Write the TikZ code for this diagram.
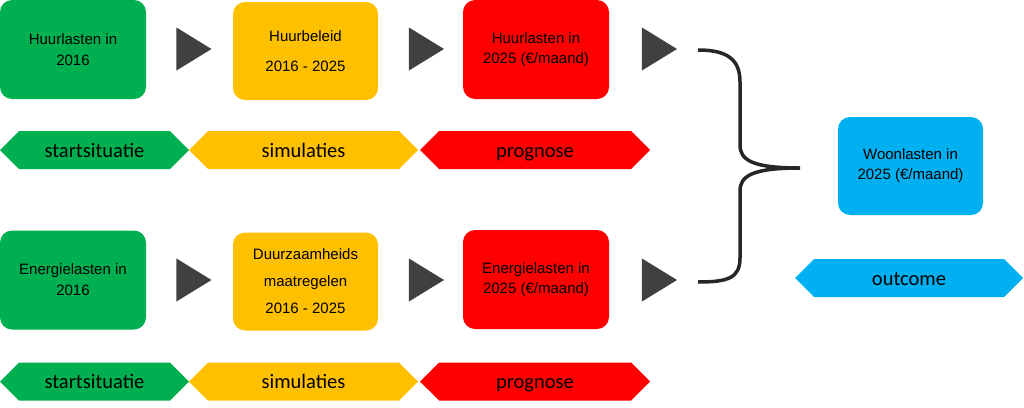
\documentclass[tikz,border=0pt]{standalone}
\usepackage{fontspec}
\setmainfont{Liberation Sans}
\newfontfamily\tagfont{Carlito}
\usetikzlibrary{shapes.geometric,shapes.symbols,positioning}

\definecolor{startgreen}{HTML}{00B050}
\definecolor{simyellow}{HTML}{FFC000}
\definecolor{progred}{HTML}{FF0000}
\definecolor{outblue}{HTML}{00B0F0}
\definecolor{stepgray}{HTML}{404040}
\definecolor{bracegray}{HTML}{262626}

\begin{document}
\begin{tikzpicture}[
  x=1pt, y=-1pt,
  box/.style={rectangle, rounded corners=12pt, align=center, inner sep=0pt,
    minimum width=146pt, minimum height=99pt, font=\fontsize{15}{21}\selectfont},
  tag/.style={signal, signal to=west and east, inner sep=0pt,
    text height=16pt, text depth=2pt,
    minimum width=229pt, minimum height=38pt, font=\tagfont\fontsize{20.5}{24}\selectfont},
  flow/.style={isosceles triangle, isosceles triangle stretches, fill=stepgray,
    inner sep=0pt, minimum width=43pt, minimum height=35pt},
]
\useasboundingbox (0,0) rectangle (1024,407);

% === Huurlasten ===
\node[box, fill=startgreen] (huur16) at (73, 49.5) {Huurlasten in\\2016};
\node[box, fill=simyellow, minimum width=145pt, minimum height=98pt,
  font=\fontsize{15}{30}\selectfont] (huurbeleid) at (305.5, 51) {Huurbeleid\\2016 - 2025};
\node[box, fill=progred, font=\fontsize{15}{20}\selectfont] (huur25) at (536, 49.5) {Huurlasten in\\2025 (€/maand)};

\node[flow] (h1) at (188.5, 49) {};
\node[flow] (h2) at (421, 49) {};
\node[flow] (h3) at (654, 49) {};

\node[tag, fill=startgreen, minimum width=189pt] (start1) at (94.5, 150) {startsituatie};
\node[tag, fill=simyellow] (sim1) at (303.5, 150) {simulaties};
\node[tag, fill=progred, minimum width=230pt] (prog1) at (535, 150) {prognose};

% === Energielasten ===
\node[box, fill=startgreen] (energie16) at (73, 280) {Energielasten in\\2016};
\node[box, fill=simyellow, minimum width=145pt, minimum height=98pt,
  font=\fontsize{15}{27}\selectfont] (maatregelen) at (305.5, 281.5) {Duurzaamheids\\maatregelen\\2016 - 2025};
\node[box, fill=progred, font=\fontsize{15}{20}\selectfont] (energie25) at (536, 279.5) {Energielasten in\\2025 (€/maand)};

\node[flow] (e1) at (188.5, 280) {};
\node[flow] (e2) at (421, 280) {};
\node[flow] (e3) at (654, 280) {};

\node[tag, fill=startgreen, minimum width=189pt] (start2) at (94.5, 381.5) {startsituatie};
\node[tag, fill=simyellow] (sim2) at (303.5, 381.5) {simulaties};
\node[tag, fill=progred, minimum width=230pt] (prog2) at (535, 381.5) {prognose};

% === Woonlasten ===
\node[box, fill=outblue, minimum width=145pt, minimum height=98pt,
  font=\fontsize{15}{20}\selectfont] (woon25) at (910.5, 166) {Woonlasten in\\2025 (€/maand)};
\node[tag, fill=outblue, minimum width=228pt] (outcome) at (909, 278) {outcome};

\coordinate (btop) at (698, 50);
\coordinate (btip) at (800, 168);
\coordinate (bbot) at (698, 282);
\draw[bracegray, line width=3.5pt]
  (btop) .. controls (728, 50) and (740, 60) .. (740, 82) -- (740, 145)
  .. controls (740, 160) and (752, 168) .. (btip)
  .. controls (752, 168) and (740, 176) .. (740, 191) -- (740, 258)
  .. controls (740, 278) and (728, 282) .. (bbot);

\end{tikzpicture}
\end{document}
